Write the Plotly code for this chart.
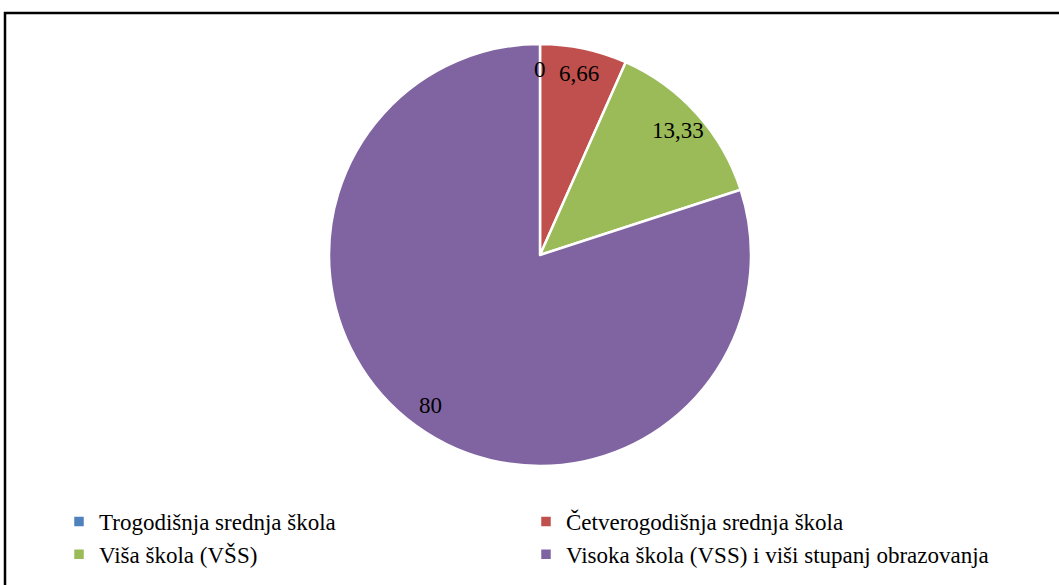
import math
import plotly.graph_objects as go

labels = ["Trogodišnja srednja škola", "Četverogodišnja srednja škola",
          "Viša škola (VŠS)", "Visoka škola (VSS) i viši stupanj obrazovanja"]
values = [0, 6.66, 13.33, 80]
colors = ["#4F81BD", "#C0504D", "#9BBB59", "#8064A2"]
value_text = ["0", "6,66", "13,33", "80"]

W, H = 1059, 585
cx, cy, R = 540, 255, 211  # pie centre / radius in px

fig = go.Figure(go.Pie(
    labels=labels, values=values, sort=False, direction="clockwise", rotation=0,
    marker=dict(colors=colors, line=dict(color="white", width=2.5)),
    textinfo="none", hoverinfo="label+value",
    domain=dict(x=[(cx - R) / W, (cx + R) / W], y=[1 - (cy + R) / H, 1 - (cy - R) / H]),
    showlegend=True,
))

# data labels placed along each slice's mid-angle
total = sum(values)
cum = 0
annotations = []
for v, t in zip(values, value_text):
    mid = (cum + v / 2) / total
    cum += v
    ang = 2 * math.pi * mid
    r = 0.88 * R
    x = cx + r * math.sin(ang)
    y = cy - r * math.cos(ang)
    annotations.append(dict(x=x / W, y=1 - y / H, xref="paper", yref="paper", text=t,
                            xanchor="center", yanchor="middle",
                            showarrow=False, font=dict(size=23, color="black",
                                                       family="Liberation Serif")))

fig.update_layout(
    width=W, height=H,
    margin=dict(l=0, r=0, t=0, b=0),
    paper_bgcolor="white", plot_bgcolor="white",
    font=dict(family="Liberation Serif", color="black"),
    annotations=annotations,
    legend=dict(orientation="h", x=59 / W, xanchor="left", y=1 - 500 / H, yanchor="top",
                entrywidth=422, entrywidthmode="pixels",
                font=dict(size=23, family="Liberation Serif", color="black"),
                traceorder="normal"),
    shapes=[dict(type="rect", xref="paper", yref="paper", x0=5 / W, x1=1.02,
                 y0=-0.02, y1=1 - 13 / H, line=dict(color="black", width=2.5))],
)

fig.write_html("out.html", config={"displayModeBar": False},
               post_script="document.body.style.margin='0';document.body.style.overflow='hidden';")
